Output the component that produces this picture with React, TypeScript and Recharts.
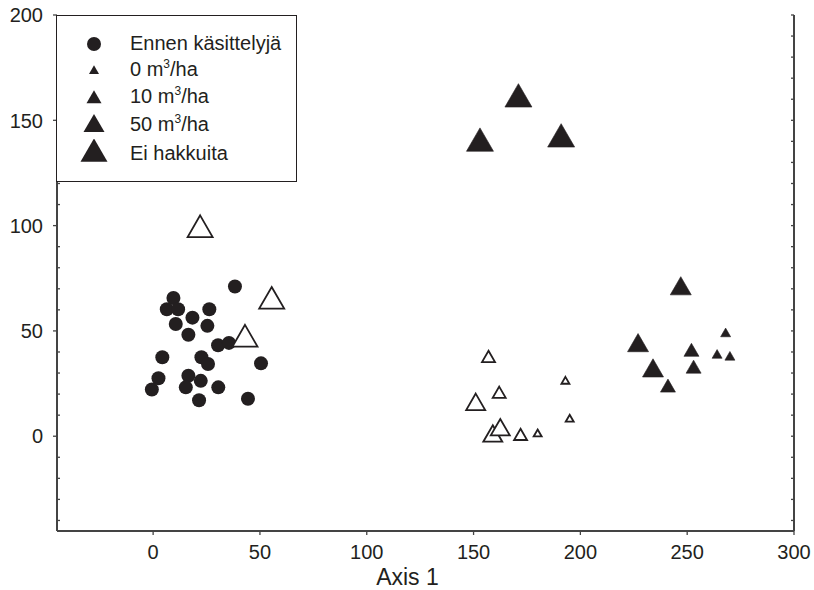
import { Legend, Scatter, ScatterChart, XAxis, YAxis } from "recharts";

type Pt = { x: number; y: number };

const INK = "#231f20";
const AXIS = "#444444";
const FONT = "'Liberation Sans', Arial, Helvetica, sans-serif";

// Ennen käsittelyjä
const beforeTreatment: Pt[] = [
  { x: 38.3, y: 71.1 }, { x: 9.5, y: 65.6 }, { x: 6.4, y: 60.3 }, { x: 11.7, y: 60.3 },
  { x: 26.3, y: 60.3 }, { x: 18.4, y: 56.3 }, { x: 10.6, y: 53.3 }, { x: 25.4, y: 52.4 },
  { x: 16.5, y: 48.2 }, { x: 30.4, y: 43.2 }, { x: 35.5, y: 44.3 }, { x: 4.3, y: 37.5 },
  { x: 22.6, y: 37.5 }, { x: 25.7, y: 34.3 }, { x: 50.5, y: 34.6 }, { x: 2.5, y: 27.5 },
  { x: -0.6, y: 22.2 }, { x: 16.5, y: 28.7 }, { x: 15.3, y: 23.2 }, { x: 22.3, y: 26.3 },
  { x: 30.5, y: 23.2 }, { x: 21.5, y: 17.1 }, { x: 44.4, y: 17.8 },
];

// täytetyt kolmiot
const cut0: Pt[] = [{ x: 268, y: 48.6 }, { x: 264, y: 38.4 }, { x: 270, y: 37.5 }];
const cut10: Pt[] = [{ x: 252, y: 40 }, { x: 253, y: 32 }, { x: 241, y: 23 }];
const cut50: Pt[] = [{ x: 247, y: 70 }, { x: 227, y: 43 }, { x: 234, y: 31 }];
const noCut: Pt[] = [{ x: 171, y: 160 }, { x: 153, y: 139 }, { x: 191, y: 141 }];

// avoimet kolmiot
const cut0Open: Pt[] = [{ x: 193, y: 26 }, { x: 195, y: 8 }, { x: 180, y: 1 }];
const cut10Open: Pt[] = [{ x: 157, y: 37 }, { x: 162, y: 20 }, { x: 172, y: 0 }];
const cut50Open: Pt[] = [{ x: 159, y: 0 }, { x: 151, y: 15 }, { x: 162.5, y: 3 }];
const noCutOpen: Pt[] = [{ x: 22, y: 98 }, { x: 55.5, y: 64 }, { x: 43, y: 46 }];

const X_TICKS = [0, 50, 100, 150, 200, 250, 300];
const Y_TICKS = [-40, -30, -20, -10, 0, 10, 20, 30, 40, 50, 60, 70, 80, 90, 100, 110, 120, 130, 140, 150, 160, 170, 180, 190, 200];

type Label = { main: string; sup?: string; rest?: string };
const LEGEND_LABELS: Label[] = [
  { main: "Ennen käsittelyjä" },
  { main: "0 m", sup: "3", rest: "/ha" },
  { main: "10 m", sup: "3", rest: "/ha" },
  { main: "50 m", sup: "3", rest: "/ha" },
  { main: "Ei hakkuita" },
];

// marker widths in px: circle, then triangles small -> large
const MARKER = { circle: 14, t0: 10, t10: 15, t50: 21, tNo: 27 };

function trianglePath(cx: number, cy: number, w: number) {
  const h = (w * Math.sqrt(3)) / 2;
  return `M${cx},${cy - (2 * h) / 3}L${cx + w / 2},${cy + h / 3}L${cx - w / 2},${cy + h / 3}Z`;
}

function triangle(w: number, filled: boolean) {
  return (props: any) => {
    const { cx, cy } = props;
    if (cx == null || cy == null) return <g />;
    return filled ? (
      <path d={trianglePath(cx, cy, w)} fill={INK} stroke={INK} strokeWidth={0.6} />
    ) : (
      <path d={trianglePath(cx, cy, w - 2)} fill="#fff" stroke={INK} strokeWidth={1.8} />
    );
  };
}

function circle(d: number) {
  return (props: any) => {
    const { cx, cy } = props;
    if (cx == null || cy == null) return <g />;
    return <circle cx={cx} cy={cy} r={d / 2} fill={INK} />;
  };
}

const legendMarkers = [
  (cx: number, cy: number) => <circle cx={cx} cy={cy} r={MARKER.circle / 2} fill={INK} />,
  (cx: number, cy: number) => <path d={trianglePath(cx, cy, MARKER.t0)} fill={INK} />,
  (cx: number, cy: number) => <path d={trianglePath(cx, cy, MARKER.t10)} fill={INK} />,
  (cx: number, cy: number) => <path d={trianglePath(cx, cy, MARKER.t50)} fill={INK} />,
  (cx: number, cy: number) => <path d={trianglePath(cx, cy, MARKER.tNo)} fill={INK} />,
];

function LegendBox() {
  return (
    <div
      style={{
        width: 241,
        height: 167,
        boxSizing: "border-box",
        border: `1.3px solid ${INK}`,
        background: "#fff",
        fontFamily: FONT,
        fontSize: 20,
        color: INK,
        paddingTop: 13,
      }}
    >
      {LEGEND_LABELS.map((l, i) => (
        <div key={i} style={{ display: "flex", alignItems: "center", height: 27.5 }}>
          <svg width={30} height={28} style={{ marginLeft: 22, marginRight: 21, flexShrink: 0 }}>
            {legendMarkers[i](15, 15)}
          </svg>
          <span style={{ whiteSpace: "nowrap", lineHeight: "20px" }}>
            {l.main}
            {l.sup && (
              <span style={{ fontSize: 12, position: "relative", top: -8 }}>{l.sup}</span>
            )}
            {l.rest}
          </span>
        </div>
      ))}
    </div>
  );
}

function LeftTick(props: any) {
  const { x, y, payload } = props;
  const v = payload.value as number;
  if (v % 50 === 0) {
    return (
      <g>
        <line x1={x - 4} x2={x} y1={y} y2={y} stroke={AXIS} strokeWidth={1.3} />
        <text x={x - 14} y={y} dy="0.36em" textAnchor="end" fill={INK} fontSize={20} fontFamily={FONT}>
          {v}
        </text>
      </g>
    );
  }
  return <line x1={x} x2={x + 3} y1={y} y2={y} stroke={AXIS} strokeWidth={1.3} />;
}

function RightTick(props: any) {
  const { x, y } = props;
  return <line x1={x - 3} x2={x} y1={y} y2={y} stroke={AXIS} strokeWidth={1.3} />;
}

function AxisTitle(props: any) {
  const vb = props.viewBox;
  return (
    <text
      x={vb.x + vb.width / 2 - 18}
      y={vb.y + vb.height - 5}
      textAnchor="middle"
      fill={INK}
      fontSize={23}
      fontFamily={FONT}
    >
      Axis 1
    </text>
  );
}

export default function App() {
  const axisLine = { stroke: AXIS, strokeWidth: 2 };
  return (
    <div style={{ position: "absolute", left: 0, top: 0, width: 814, height: 590, background: "#fff" }}>
      <ScatterChart width={814} height={590} margin={{ top: 15, right: 0, bottom: 0, left: 0 }}>
        <XAxis
          type="number"
          dataKey="x"
          domain={[-45, 300]}
          ticks={X_TICKS}
          interval={0}
          allowDataOverflow
          height={59}
          tickSize={4}
          tickMargin={10}
          axisLine={axisLine}
          tickLine={{ stroke: AXIS, strokeWidth: 1.3 }}
          tick={{ fill: INK, fontSize: 20, fontFamily: FONT }}
          label={<AxisTitle />}
        />
        <XAxis
          xAxisId="top"
          orientation="top"
          type="number"
          domain={[-45, 300]}
          allowDataOverflow
          height={0}
          tick={false}
          tickLine={false}
          axisLine={axisLine}
        />
        <YAxis
          type="number"
          dataKey="y"
          domain={[-45, 200]}
          ticks={Y_TICKS}
          interval={0}
          allowDataOverflow
          width={57}
          tickSize={0}
          tickMargin={0}
          tickLine={false}
          axisLine={axisLine}
          tick={<LeftTick />}
        />
        <YAxis
          yAxisId="right"
          orientation="right"
          type="number"
          domain={[-45, 200]}
          ticks={Y_TICKS}
          interval={0}
          allowDataOverflow
          width={20}
          tickSize={0}
          tickMargin={0}
          tickLine={false}
          axisLine={axisLine}
          tick={<RightTick />}
        />
        <Legend
          layout="vertical"
          align="center"
          verticalAlign="middle"
          wrapperStyle={{ left: 56, top: 15, width: 241, height: 167 }}
          content={() => <LegendBox />}
        />
        <Scatter name="Ennen käsittelyjä" data={beforeTreatment} shape={circle(MARKER.circle)} isAnimationActive={false} legendType="none" />
        <Scatter name="Ei hakkuita (avoin)" data={noCutOpen} shape={triangle(MARKER.tNo, false)} isAnimationActive={false} legendType="none" />
        <Scatter name="50 m3/ha (avoin)" data={cut50Open} shape={triangle(MARKER.t50, false)} isAnimationActive={false} legendType="none" />
        <Scatter name="10 m3/ha (avoin)" data={cut10Open} shape={triangle(MARKER.t10, false)} isAnimationActive={false} legendType="none" />
        <Scatter name="0 m3/ha (avoin)" data={cut0Open} shape={triangle(MARKER.t0, false)} isAnimationActive={false} legendType="none" />
        <Scatter name="0 m3/ha" data={cut0} shape={triangle(MARKER.t0, true)} isAnimationActive={false} legendType="none" />
        <Scatter name="10 m3/ha" data={cut10} shape={triangle(MARKER.t10, true)} isAnimationActive={false} legendType="none" />
        <Scatter name="50 m3/ha" data={cut50} shape={triangle(MARKER.t50, true)} isAnimationActive={false} legendType="none" />
        <Scatter name="Ei hakkuita" data={noCut} shape={triangle(MARKER.tNo, true)} isAnimationActive={false} legendType="none" />
      </ScatterChart>
    </div>
  );
}
